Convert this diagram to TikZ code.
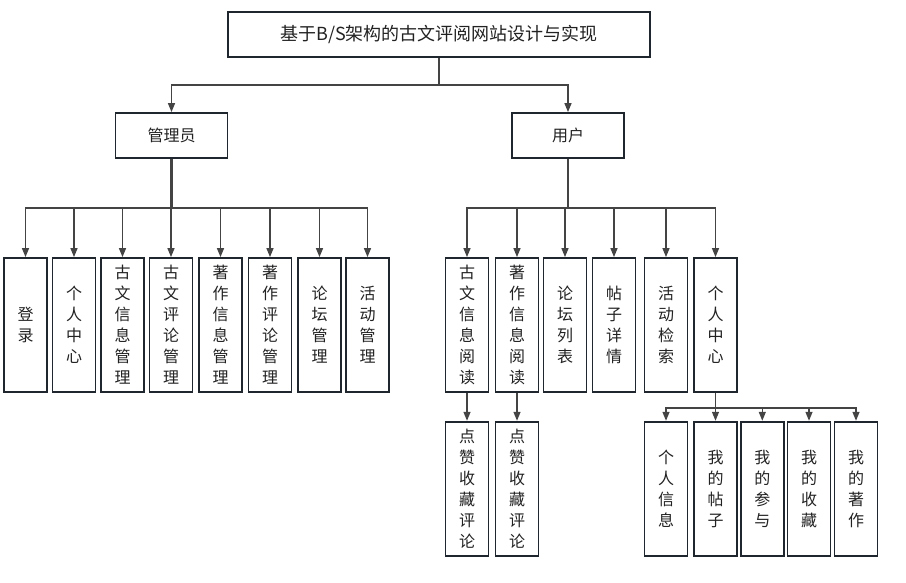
\documentclass[tikz,border=0pt]{standalone}
\usepackage{fontspec}
\setmainfont{Noto Sans CJK SC}
\usetikzlibrary{arrows.meta}
\definecolor{bcol}{HTML}{1F262D}
\definecolor{lcol}{HTML}{444444}
\definecolor{tcol}{HTML}{222222}
\begin{document}
\begin{tikzpicture}[x=1pt,y=-1pt,
 box/.style={draw=bcol, line width=1.8pt, fill=white, inner sep=0pt, text=tcol, font=\fontsize{16}{21}\selectfont, align=center},
 vbox/.style={box, minimum width=43pt, minimum height=134pt},
 hbox/.style={box, minimum width=112pt, minimum height=45pt},
 arr/.style={draw=lcol, line width=1.3pt, -{Triangle[length=9pt,width=7pt]}},
 thick/.style={draw=lcol, line width=2.6pt}
]
\useasboundingbox (0,0) rectangle (906,583);
% top
\node[box, minimum width=422pt, minimum height=45pt, font=\fontsize{18}{20}\selectfont] (top) at (439,34.5) {基于B/S架构的古文评阅网站设计与实现};
\node[hbox] (adm) at (171.5,135.5) {管理员};
\node[hbox] (usr) at (568,135.5) {用户};
% admin children
\node[vbox] (a1) at (25.5,325) {登\\录};
\node[vbox] (a2) at (74,325) {个\\人\\中\\心};
\node[vbox] (a3) at (122.5,325) {古\\文\\信\\息\\管\\理};
\node[vbox] (a4) at (171,325) {古\\文\\评\\论\\管\\理};
\node[vbox] (a5) at (220.5,325) {著\\作\\信\\息\\管\\理};
\node[vbox] (a6) at (270,325) {著\\作\\评\\论\\管\\理};
\node[vbox] (a7) at (319.5,325) {论\\坛\\管\\理};
\node[vbox] (a8) at (367.5,325) {活\\动\\管\\理};
% user children
\node[vbox] (u1) at (467,325) {古\\文\\信\\息\\阅\\读};
\node[vbox] (u2) at (517,325) {著\\作\\信\\息\\阅\\读};
\node[vbox] (u3) at (565,325) {论\\坛\\列\\表};
\node[vbox] (u4) at (614,325) {帖\\子\\详\\情};
\node[vbox] (u5) at (666,325) {活\\动\\检\\索};
\node[vbox] (u6) at (715.5,325) {个\\人\\中\\心};
% bottom
\node[vbox] (b1) at (467,488.7) {点\\赞\\收\\藏\\评\\论};
\node[vbox] (b2) at (517,488.7) {点\\赞\\收\\藏\\评\\论};
\node[vbox] (c1) at (666,488.7) {个\\人\\信\\息};
\node[vbox] (c2) at (715.5,488.7) {我\\的\\帖\\子};
\node[vbox] (c3) at (762.3,488.7) {我\\的\\参\\与};
\node[vbox] (c4) at (809,488.7) {我\\的\\收\\藏};
\node[vbox] (c5) at (856,488.7) {我\\的\\著\\作};
% connectors top
\draw[arr] (top.south) -- ++(0,27) -| (adm.north);
\draw[arr] (top.south) -- ++(0,27) -| (usr.north);
% admin
\draw[thick] (adm.south) -- ++(0,49);
\foreach \n in {a1,a2,a3,a4,a5,a6,a7,a8}
  \draw[arr] (adm.south) -- ++(0,49) -| (\n.north);
% user
\foreach \n in {u1,u2,u3,u4,u5,u6}
  \draw[arr] (usr.south) -- ++(0,49) -| (\n.north);
% reading
\draw[arr] (u1.south) -- (b1.north);
\draw[arr] (u2.south) -- (b2.north);
% personal center
\foreach \n in {c1,c2,c3,c4,c5}
  \draw[arr] (u6.south) -- ++(0,15) -| (\n.north);
\end{tikzpicture}
\end{document}
